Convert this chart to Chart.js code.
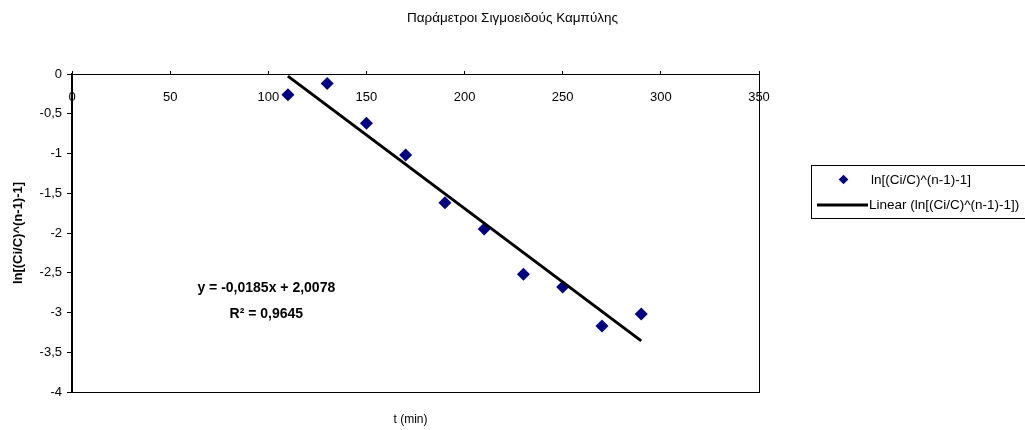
<!DOCTYPE html>
<html>
<head>
<meta charset="utf-8">
<title>Παράμετροι Σιγμοειδούς Καμπύλης</title>
<script src="https://cdn.jsdelivr.net/npm/chart.js@4/dist/chart.umd.min.js"></script>
<style>
  html, body { margin: 0; padding: 0; background: #fff; }
  #wrap { width: 1025px; height: 430px; position: relative; }
</style>
</head>
<body>
<div id="wrap"><canvas id="chart" width="1025" height="430"></canvas></div>
<script>
// Measured times (min) and the linearised concentration term
const times = [110, 130, 150, 170, 190, 210, 230, 250, 270, 290];
const lnValues = [-0.26, -0.12, -0.62, -1.02, -1.62, -1.95, -2.52, -2.68, -3.17, -3.02];

// Least-squares fit reported on the chart
const fitSlope = -0.0185;
const fitIntercept = 2.0078;
const fitR2 = 0.9645;

// Axis tick values
const xTicks = [0, 50, 100, 150, 200, 250, 300, 350];
const yTicks = [0, -0.5, -1, -1.5, -2, -2.5, -3, -3.5, -4];

const chartTitle = 'Παράμετροι Σιγμοειδούς Καμπύλης';
const xTitle = 't (min)';
const yTitle = 'ln[(Ci/C)^(n-1)-1]';
const seriesName = 'ln[(Ci/C)^(n-1)-1]';
const fitName = 'Linear (ln[(Ci/C)^(n-1)-1])';

const FONT = '"Liberation Sans", Arial, Helvetica, sans-serif';
const NAVY = '#000080';

const comma = (v, digits) => {
  const s = digits === undefined ? String(v) : v.toFixed(digits);
  return s.replace('.', ',');
};

const points = times.map((t, i) => ({ x: t, y: lnValues[i] }));
const fitEnds = [times[0], times[times.length - 1]];
const fitLine = fitEnds.map(t => ({ x: t, y: fitSlope * t + fitIntercept }));

// Page title, frame, axis title, fit equation and legend drawn around the plot
const decorations = {
  id: 'decorations',
  beforeDraw(chart) {
    const ctx = chart.ctx;
    ctx.save();
    ctx.fillStyle = '#fff';
    ctx.fillRect(0, 0, chart.width, chart.height);
    ctx.restore();
  },
  afterDraw(chart) {
    const ctx = chart.ctx;
    const a = chart.chartArea;
    const xs = chart.scales.x;
    const ys = chart.scales.y;
    ctx.save();

    // chart title, centred on the page
    ctx.fillStyle = '#000';
    ctx.textAlign = 'center';
    ctx.textBaseline = 'middle';
    ctx.font = '13.5px ' + FONT;
    ctx.fillText(chartTitle, chart.width / 2, 18);

    // plot area frame
    ctx.strokeStyle = '#000';
    ctx.lineWidth = 1;
    ctx.strokeRect(Math.round(a.left) + 0.5, Math.round(a.top) + 0.5,
                   Math.round(a.right - a.left), Math.round(a.bottom - a.top));

    // x axis title under the plot
    ctx.font = '12px ' + FONT;
    ctx.fillText(xTitle, (a.left + a.right) / 2 - 5, 420);

    // fit equation
    const eqX = xs.getPixelForValue(99);
    ctx.font = 'bold 14px ' + FONT;
    ctx.fillText('y = ' + comma(fitSlope) + 'x + ' + comma(fitIntercept), eqX, ys.getPixelForValue(-2.69));
    ctx.fillText('R² = ' + comma(fitR2), eqX, ys.getPixelForValue(-3.02));

    // legend
    const lx = 811, ly = 165;
    ctx.lineWidth = 1;
    ctx.strokeStyle = '#000';
    ctx.strokeRect(lx + 0.5, ly + 0.5, 240, 53);
    ctx.fillStyle = NAVY;
    ctx.beginPath();
    const dx = 843.5, dy = 179.5, r = 4.8;
    ctx.moveTo(dx, dy - r); ctx.lineTo(dx + r, dy); ctx.lineTo(dx, dy + r); ctx.lineTo(dx - r, dy);
    ctx.closePath();
    ctx.fill();
    ctx.strokeStyle = '#000';
    ctx.lineWidth = 3;
    ctx.beginPath();
    ctx.moveTo(817, 205); ctx.lineTo(868, 205);
    ctx.stroke();
    ctx.fillStyle = '#000';
    ctx.font = '13.5px ' + FONT;
    ctx.textAlign = 'left';
    ctx.fillText(seriesName, 871, 180);
    ctx.fillText(fitName, 869, 205);

    ctx.restore();
  }
};

new Chart(document.getElementById('chart'), {
  type: 'scatter',
  data: {
    datasets: [
      {
        label: fitName,
        type: 'line',
        data: fitLine,
        borderColor: '#000',
        borderWidth: 3,
        pointRadius: 0,
        fill: false,
        order: 0
      },
      {
        label: seriesName,
        data: points,
        pointStyle: 'rectRot',
        pointRadius: 6.5,
        backgroundColor: NAVY,
        borderColor: NAVY,
        borderWidth: 0,
        order: 1
      }
    ]
  },
  options: {
    responsive: false,
    animation: false,
    devicePixelRatio: 1,
    font: { family: FONT },
    layout: { padding: { left: 0, right: 266, top: 74, bottom: 38 } },
    plugins: {
      legend: { display: false },
      tooltip: { enabled: false },
      title: { display: false }
    },
    scales: {
      x: {
        type: 'linear',
        position: { y: 0 },
        min: 0,
        max: 350,
        afterBuildTicks: s => { s.ticks = xTicks.map(v => ({ value: v })); },
        grid: {
          display: true,
          drawOnChartArea: false,
          drawTicks: true,
          tickLength: -4,
          color: '#000'
        },
        border: { display: true, color: '#000', width: 1 },
        ticks: {
          color: '#000',
          font: { family: FONT, size: 13 },
          padding: 19.5,
          maxRotation: 0,
          autoSkip: false,
          callback: v => comma(v)
        }
      },
      y: {
        type: 'linear',
        position: 'left',
        min: -4,
        max: 0,
        afterBuildTicks: s => { s.ticks = yTicks.map(v => ({ value: v })); },
        afterFit: s => { s.width = 72; },
        grid: {
          display: true,
          drawOnChartArea: false,
          drawTicks: true,
          tickLength: 5,
          color: '#000'
        },
        border: { display: true, color: '#000', width: 2 },
        ticks: {
          color: '#000',
          font: { family: FONT, size: 13 },
          padding: 5,
          autoSkip: false,
          callback: v => comma(v)
        },
        title: {
          display: true,
          text: yTitle,
          color: '#000',
          font: { family: FONT, size: 13, weight: 'bold' },
          padding: { top: 11, bottom: 0 }
        }
      }
    }
  },
  plugins: [decorations]
});
</script>
</body>
</html>
